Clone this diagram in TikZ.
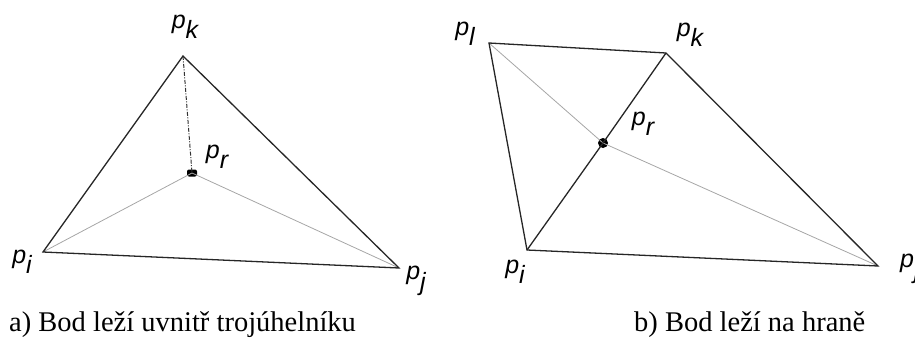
\documentclass[tikz,border=0pt]{standalone}
\usepackage{fontspec}
\setmainfont{Liberation Serif}
\setsansfont{Liberation Sans}
\tikzset{
  edgeline/.style={draw=black!85, line width=1.3pt},
  innerline/.style={draw=black!35, line width=0.8pt},
  dashdotline/.style={draw=black!80, line width=1pt, dash pattern=on 4pt off 1.5pt on 1pt off 1.5pt},
  labtext/.style={font=\sffamily\itshape\fontsize{25}{25}\selectfont, inner sep=0pt},
  captext/.style={font=\fontsize{28.5}{28.5}\selectfont, inner sep=0pt, anchor=base west},
  ptdot/.style={circle, fill=black, inner sep=0pt, minimum size=10pt}
}
\newcommand{\plab}[1]{p\raisebox{-0.42em}{#1}}
\begin{document}
\begin{tikzpicture}[x=1pt,y=-1pt]
\useasboundingbox (0,0) rectangle (915,343);
\begin{scope}
\clip (0,0) rectangle (915,343);
% a)
\coordinate (ak) at (183,56);
\coordinate (ai) at (43,252);
\coordinate (aj) at (399,268);
\node[ptdot, minimum width=10pt, minimum height=7pt, rectangle, rounded corners=2pt] (ar) at (192,173) {};
\draw[innerline] (ai) -- (ar.center) -- (aj);
\draw[dashdotline] (ak) -- (ar.center);
\draw[edgeline, line join=miter] (ai) -- (ak) -- (aj) -- cycle;
\node[labtext] (lak) at (185,27) {\plab{k}};
\node[labtext] (lar) at (217,157) {\plab{r}};
\node[labtext] (lai) at (22,262) {\plab{i}};
\node[labtext] (laj) at (416,281) {\plab{j}};
\node[captext] (capa) at (9,331) {a) Bod leží uvnitř trojúhelníku};
% b)
\coordinate (bl) at (489,43);
\coordinate (bk) at (666,53);
\coordinate (bi) at (527,250);
\coordinate (bj) at (878,266);
\node[ptdot] (br) at (603,143) {};
\draw[innerline] (bl) -- (br.center) -- (bj);
\draw[edgeline] (bi) -- (br.center) -- (bk);
\draw[edgeline, line join=miter] (bi) -- (bl) -- (bk) -- (bj) -- cycle;
\node[labtext] (lbl) at (465,34) {\plab{l}};
\node[labtext] (lbk) at (690,35) {\plab{k}};
\node[labtext] (lbr) at (643,124) {\plab{r}};
\node[labtext] (lbi) at (515,272) {\plab{i}};
\node[labtext, anchor=west] (lbj) at (900,269) {\plab{j}};
\node[captext] (capb) at (634,331) {b) Bod leží na hraně};
\end{scope}
\end{tikzpicture}
\end{document}
